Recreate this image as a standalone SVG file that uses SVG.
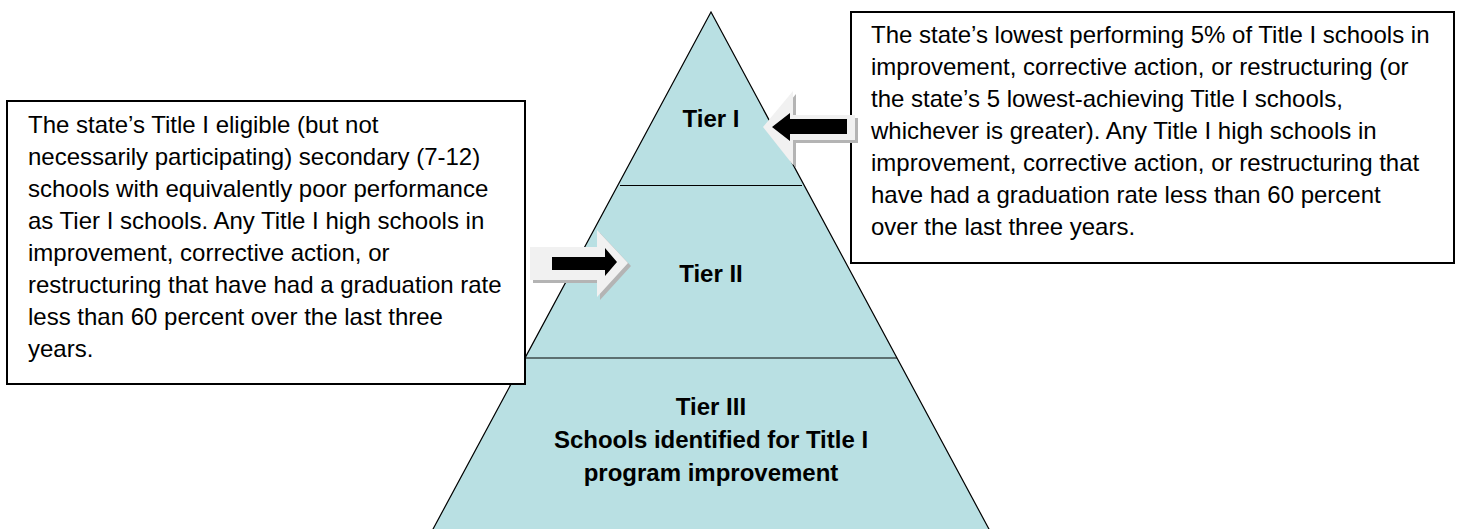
<svg xmlns="http://www.w3.org/2000/svg" width="1460" height="529" viewBox="0 0 1460 529">
<style>
.body{font-family:"Liberation Sans",Arial,sans-serif;font-size:24px;fill:#000}
.tier{font-family:"Liberation Sans",Arial,sans-serif;font-size:24px;font-weight:bold;fill:#000;text-anchor:middle}
.box{fill:#fff;stroke:#000;stroke-width:2}
.pyr{fill:#b9e0e3;stroke:#000;stroke-width:1.2}
.div{stroke:#000;stroke-width:1.2}
.arrOut{fill:#f1f1f1}
.arrShadow{fill:#b4b4b4}
.arrIn{fill:#000}
</style>
<rect width="1460" height="529" fill="#fff"/>
<g id="pyramid">
  <polygon class="pyr" points="711,12 432,531 990,531"/>
  <line class="div" x1="620" y1="185.5" x2="802" y2="185.5"/>
  <line class="div" x1="525" y1="358" x2="897" y2="358"/>
  <text class="tier" x="711" y="127">Tier I</text>
  <text class="tier" x="711" y="282">Tier II</text>
  <text class="tier" x="711" y="415">Tier III</text>
  <text class="tier" x="711" y="448">Schools identified for Title I</text>
  <text class="tier" x="711" y="481">program improvement</text>
</g>
<g id="box-tier2">
  <rect class="box" x="7" y="101" width="518" height="283"/>
  <text class="body" x="28" y="133">The state’s Title I eligible (but not</text>
  <text class="body" x="28" y="165">necessarily participating) secondary (7-12)</text>
  <text class="body" x="28" y="197">schools with equivalently poor performance</text>
  <text class="body" x="28" y="229">as Tier I schools. Any Title I high schools in</text>
  <text class="body" x="28" y="261">improvement, corrective action, or</text>
  <text class="body" x="28" y="293">restructuring that have had a graduation rate</text>
  <text class="body" x="28" y="325">less than 60 percent over the last three</text>
  <text class="body" x="28" y="357">years.</text>
</g>
<g id="box-tier1">
  <rect class="box" x="851" y="12" width="603" height="251"/>
  <text class="body" x="871" y="43">The state’s lowest performing 5% of Title I schools in</text>
  <text class="body" x="871" y="75">improvement, corrective action, or restructuring (or</text>
  <text class="body" x="871" y="107">the state’s 5 lowest-achieving Title I schools,</text>
  <text class="body" x="871" y="139">whichever is greater). Any Title I high schools in</text>
  <text class="body" x="871" y="171">improvement, corrective action, or restructuring that</text>
  <text class="body" x="871" y="203">have had a graduation rate less than 60 percent</text>
  <text class="body" x="871" y="235">over the last three years.</text>
</g>
<g id="connectors">
  <g id="arrow-tier1">
    <polygon class="arrShadow" transform="translate(3,3)" points="763,127 793,91 793,115 855,115 855,140 793,140 793,165"/>
    <polygon class="arrOut" points="763,127 793,91 793,115 855,115 855,140 793,140 793,165"/>
    <polygon class="arrIn" points="772,127 790,113 790,119 847,119 847,134 790,134 790,141"/>
  </g>
  <g id="arrow-tier2">
    <polygon class="arrShadow" transform="translate(3,3)" points="530,247 597,247 597,230 628,263 597,297 597,280 530,280"/>
    <polygon class="arrOut" points="530,247 597,247 597,230 628,263 597,297 597,280 530,280"/>
    <polygon class="arrIn" points="552,257 605,257 605,248 617,262 605,276 605,270 552,270"/>
  </g>
</g>
</svg>
